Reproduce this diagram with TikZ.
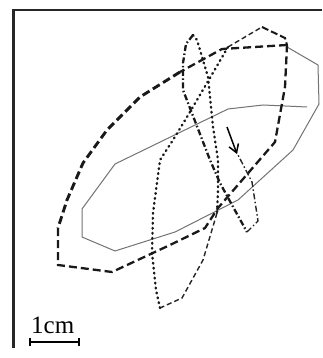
\documentclass[tikz,border=0pt]{standalone}
\usepackage{fontspec}
\setmainfont{Liberation Serif}
\usetikzlibrary{arrows.meta}
\begin{document}
\begin{tikzpicture}[x=1pt,y=-1pt,
  frame/.style={line width=2.5pt,black!85},
  grayline/.style={line width=1pt,black!55,line join=round},
  bolddash/.style={line width=2.3pt,black!90,dash pattern=on 8pt off 4pt},
  heavydash/.style={line width=2.9pt,black!90,dash pattern=on 8pt off 4pt},
  finedash/.style={line width=1.4pt,black!85,dash pattern=on 5pt off 3pt},
  dotline/.style={line width=2.4pt,black!90,dash pattern=on 0.8pt off 4.2pt,line cap=round},
  dashdot/.style={line width=2.3pt,black!90,dash pattern=on 6pt off 2.5pt on 1.5pt off 2.5pt},
  thindashdot/.style={line width=1.4pt,black!85,dash pattern=on 6pt off 2.5pt on 1.5pt off 2.5pt},
  scalebar/.style={line width=1.5pt,black}]
\useasboundingbox (0,0) rectangle (322,358);
\fill[white] (0,0) rectangle (322,358);
% frame
\draw[frame] (13.5,348) -- (13.5,10) -- (322,10);
% gray solid trajectory
\draw[grayline] (307,107) -- (263,105) -- (228,109) -- (115,164) -- (82,209) -- (82,237)
  -- (115,251) -- (175,232) -- (238,200) -- (293,150) -- (319,104) -- (318,65) -- (287,47);
% bold dashed loop
\draw[bolddash] (287,45) -- (222,49) -- (180,72);
\draw[heavydash] (180,72) -- (140,97) -- (107,130) -- (83,163) -- (67,200) -- (58,228);
\draw[bolddash] (58,228) -- (58,265) -- (112,272) -- (170,245) -- (205,228) -- (218,208)
  -- (275,142) -- (285,87) -- (287,45);
% top fine dashed part
\draw[finedash] (228,47) -- (262,27);
\draw[bolddash,line width=2pt,dash pattern=on 7pt off 3pt] (262,27) -- (285,38) -- (287,45);
% dotted / dashed vertical loop
\draw[dotline] (193,35) -- (197,40) -- (208,77) -- (213,127) -- (218,160) -- (218,190) -- (217,213);
\draw[finedash] (217,213) -- (203,260) -- (182,298) -- (160,308);
\draw[dotline] (160,308) -- (156,290) -- (152,253) -- (153,213) -- (160,160) -- (173,140)
  -- (187,117) -- (207,83) -- (228,47);
% dash-dot loop
\draw[dashdot] (193,35) -- (186,44) -- (183,63) -- (183,90) -- (188,103) -- (210,160)
  -- (220,183) -- (232,205) -- (247,232);
\draw[thindashdot] (247,232) -- (258,221) -- (252,182) -- (237,153);
% direction arrow
\coordinate (arrS) at (227,127);
\coordinate (arrE) at (237,154);
\draw[line width=1.5pt,-{Straight Barb[length=8pt,width=10pt]}] (arrS) -- (arrE);
% scale bar
\node[anchor=base west,inner sep=0pt,font=\fontsize{25}{25}\selectfont] (lbl) at (31,333) {1cm};
\coordinate (sbL) at (30,342);
\coordinate (sbR) at (79,342);
\draw[scalebar] (sbL) -- (sbR);
\draw[scalebar] ([yshift=-4pt]sbL) -- ([yshift=4pt]sbL);
\draw[scalebar] ([yshift=-4pt]sbR) -- ([yshift=4pt]sbR);
\end{tikzpicture}
\end{document}
